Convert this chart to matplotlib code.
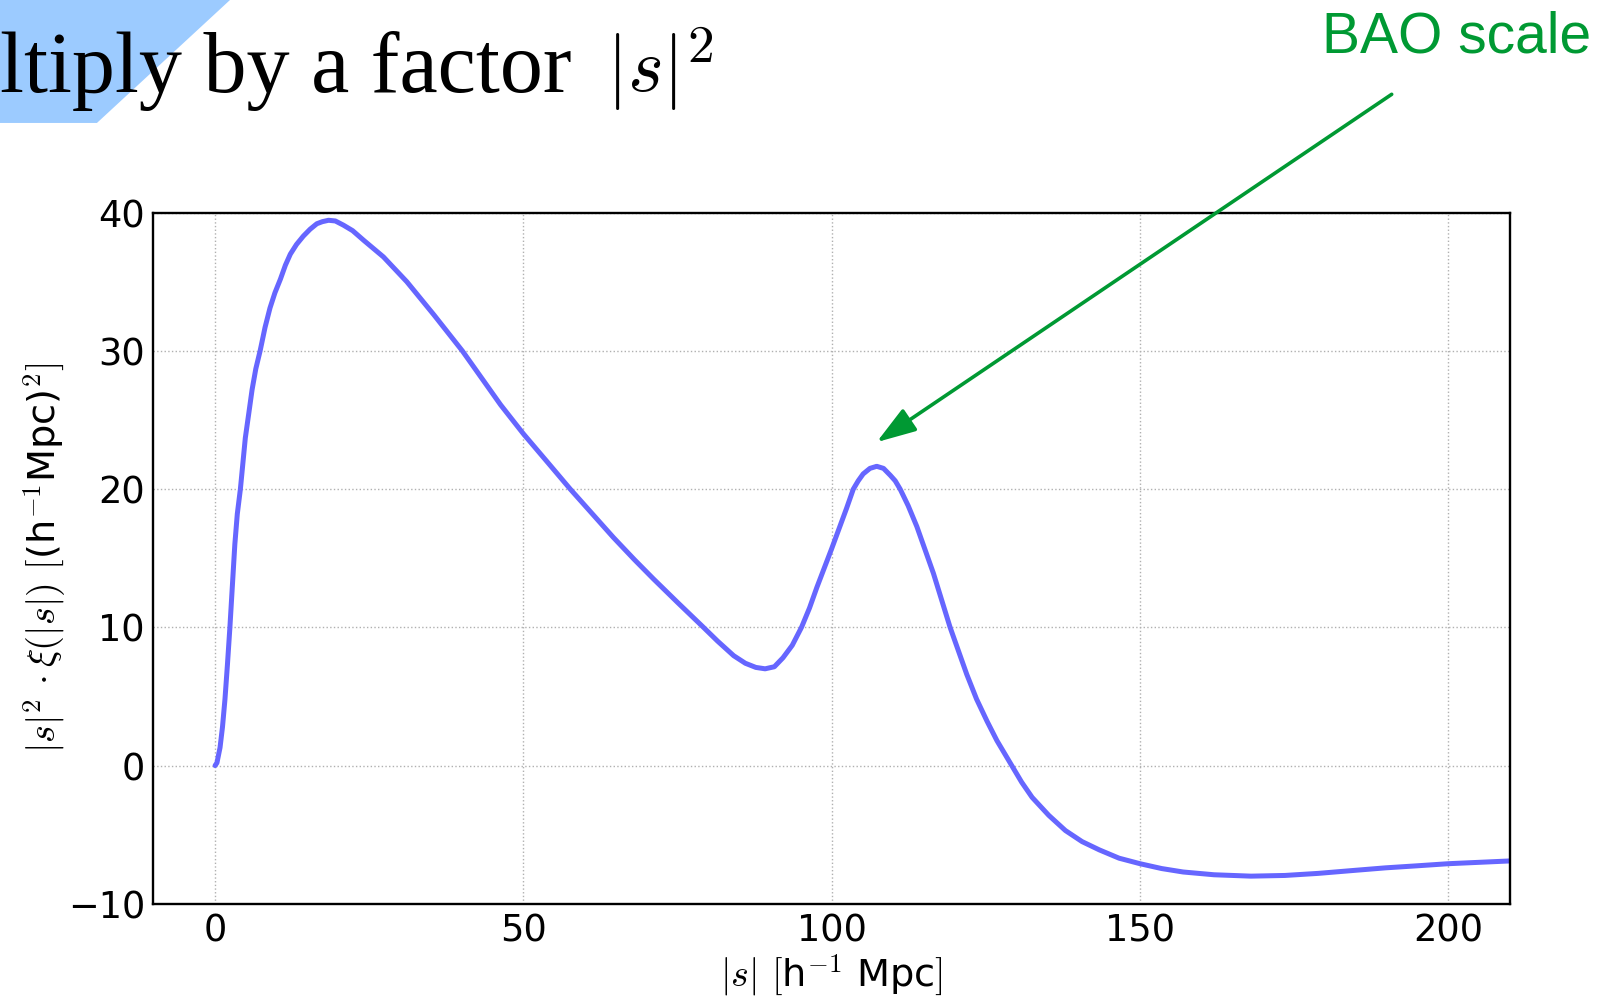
import matplotlib

matplotlib.use("Agg")
import matplotlib.pyplot as plt
from matplotlib.patches import Polygon

# |s| in h^-1 Mpc and |s|^2 * xi(|s|)
S_VALUES = [
    0.0, 0.3, 0.8, 1.2, 1.6, 2.0, 2.4, 2.8, 3.2, 3.6, 4.1, 4.9, 5.5, 6.0, 6.6,
    7.3, 8.1, 8.9, 9.7, 10.6, 11.4, 12.2, 13.2, 14.3, 15.4, 16.5, 17.4, 18.4,
    19.5, 20.8, 22.3, 24.1, 25.7, 27.3, 29.2, 31.1, 33.3, 35.5, 37.8, 40.1,
    43.6, 46.3, 50.0, 54.0, 57.6, 61.0, 64.6, 68.0, 71.1, 75.0, 79.2, 81.5,
    84.1, 86.0, 87.7, 89.2, 90.7, 92.1, 93.6, 95.1, 96.4, 97.6, 100.0, 102.4,
    103.5, 104.3, 105.1, 106.2, 107.3, 108.4, 109.5, 110.3, 111.1, 112.4,
    113.8, 116.5, 119.2, 121.9, 123.5, 125.2, 126.8, 128.4, 129.2, 130.8,
    132.5, 135.2, 137.9, 140.6, 143.4, 146.6, 150.0, 153.5, 157.0, 162.0,
    168.0, 173.5, 178.9, 184.3, 189.8, 195.0, 200.0, 205.0, 210.0,
]
S2_XI = [
    0.0, 0.2, 1.3, 2.8, 4.8, 7.3, 10.0, 13.0, 16.0, 18.2, 20.0, 23.7, 25.6, 27.2, 28.7,
    30.0, 31.7, 33.1, 34.2, 35.2, 36.2, 37.0, 37.7, 38.3, 38.8, 39.2, 39.35, 39.45,
    39.4, 39.1, 38.7, 38.0, 37.4, 36.8, 35.9, 35.0, 33.8, 32.6, 31.3, 30.0,
    27.8, 26.1, 24.0, 21.9, 20.0, 18.3, 16.5, 14.9, 13.5, 11.8, 10.0, 9.0,
    7.95, 7.4, 7.1, 7.0, 7.15, 7.8, 8.7, 10.0, 11.4, 12.9, 15.7, 18.6,
    20.0, 20.6, 21.1, 21.5, 21.65, 21.5, 21.0, 20.6, 20.0, 18.8,
    17.3, 13.9, 10.0, 6.6, 4.8, 3.2, 1.8, 0.6, 0.0, -1.2,
    -2.3, -3.6, -4.7, -5.5, -6.1, -6.7, -7.1, -7.45, -7.7, -7.9,
    -8.0, -7.95, -7.8, -7.6, -7.4, -7.25, -7.1, -7.0, -6.9,
]

X_TICKS = [0, 50, 100, 150, 200]
Y_TICKS = [-10, 0, 10, 20, 30, 40]
BAO_PEAK = (107.3, 23.4)

CURVE_COLOR = "#6666ff"
GREEN = "#009933"

plt.rcParams.update(
    {
        "font.family": "DejaVu Sans",
        "mathtext.fontset": "cm",
        "font.size": 26.5,
    }
)

fig = plt.figure(figsize=(16.05, 9.98), dpi=100)

# slide decoration in the top-left corner
fig.patches.append(
    Polygon(
        [(0.0, 1.0), (0.1433, 1.0), (0.0604, 0.8768), (0.0, 0.8768)],
        closed=True,
        transform=fig.transFigure,
        facecolor="#9ccbff",
        edgecolor="none",
        zorder=0,
    )
)

fig.text(
    0.0, 0.908, "ltiply by a factor",
    family="Liberation Serif", fontsize=62, va="baseline", ha="left",
)
fig.text(0.3775, 0.908, r"$|s|^2$", fontsize=55, va="baseline", ha="left")
fig.text(
    0.8235, 0.947, "BAO scale",
    family="Liberation Sans", fontsize=41, color=GREEN, va="baseline", ha="left",
)

ax = fig.add_axes([0.0956, 0.0944, 0.8452, 0.6925])
ax.plot(S_VALUES, S2_XI, color=CURVE_COLOR, linewidth=3.6,
        solid_capstyle="round", solid_joinstyle="round")
ax.set_xlim(-10, 210)
ax.set_ylim(-10, 40)
ax.set_xticks(X_TICKS)
ax.set_yticks(Y_TICKS)
ax.tick_params(length=0, pad=6)
ax.grid(True, color="#b0b0b0", linestyle=":", linewidth=1.0)
for spine in ax.spines.values():
    spine.set_linewidth(1.7)

ax.set_xlabel(r"$|s|$ $[$h$^{-1}$ Mpc$]$", fontsize=27.5, labelpad=2)
ax.set_ylabel(r"$|s|^2\,\cdot\xi(|s|)$ $[$(h$^{-1}$Mpc)$^2]$",
              fontsize=27.5, labelpad=0)

ax.annotate(
    "",
    xy=BAO_PEAK,
    xycoords="data",
    xytext=(0.8671, 0.9055),
    textcoords="figure fraction",
    annotation_clip=False,
    arrowprops=dict(
        arrowstyle="-|>,head_length=0.48,head_width=0.16",
        mutation_scale=50,
        color=GREEN,
        linewidth=2.6,
        shrinkA=0,
        shrinkB=0,
    ),
)

fig.savefig("out.png", dpi=100)
